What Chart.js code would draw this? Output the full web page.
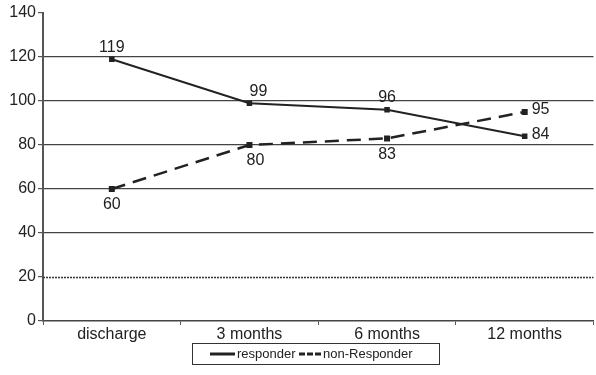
<!DOCTYPE html>
<html>
<head>
<meta charset="utf-8">
<script src="https://cdn.jsdelivr.net/npm/chart.js@4/dist/chart.umd.min.js"></script>
<style>
  html, body { margin: 0; padding: 0; background: #fff; overflow: hidden; }
  #wrap { width: 600px; height: 375px; }
</style>
</head>
<body>
<div id="wrap"><canvas id="c" width="600" height="375"></canvas></div>
<script>
const categories = ['discharge', '3 months', '6 months', '12 months'];
const responder = [119, 99, 96, 84];
const nonResponder = [60, 80, 83, 95];
const yTicks = [0, 20, 40, 60, 80, 100, 120, 140];
const seriesNames = ['responder', 'non-Responder'];

const FONT = '"Liberation Sans", Arial, Helvetica, sans-serif';
const INK = '#222';

// value labels next to each point: placement per series and category
const labelPlacement = [
  ['above', 'above', 'above', 'right'],
  ['below', 'below', 'below', 'right']
];

const valueLabels = {
  id: 'valueLabels',
  afterDatasetsDraw(chart) {
    const ctx = chart.ctx;
    ctx.save();
    ctx.font = '16px ' + FONT;
    ctx.fillStyle = INK;
    ctx.textBaseline = 'middle';
    chart.data.datasets.forEach((ds, di) => {
      const meta = chart.getDatasetMeta(di);
      meta.data.forEach((pt, i) => {
        const where = labelPlacement[di][i];
        let x = pt.x, y = pt.y;
        ctx.textAlign = 'center';
        if (where === 'above') y -= 12;
        else if (where === 'below') y += 16;
        else { ctx.textAlign = 'left'; x += 7; y -= 2; }
        if (di === 0 && i === 1) x += 9;
        if (di === 1 && i === 1) x += 6;
        ctx.fillText(String(ds.data[i]), x, y);
      });
    });
    ctx.restore();
  }
};

// boxed legend below the axis
const boxLegend = {
  id: 'boxLegend',
  afterDraw(chart) {
    const ctx = chart.ctx;
    ctx.save();
    const bx = 192.5, by = 343.5, bw = 247, bh = 21;
    ctx.strokeStyle = '#333';
    ctx.lineWidth = 1;
    ctx.strokeRect(bx, by, bw, bh);
    const cy = by + bh / 2;
    ctx.lineWidth = 3;
    ctx.strokeStyle = INK;
    ctx.setLineDash([]);
    ctx.beginPath(); ctx.moveTo(210, cy); ctx.lineTo(235, cy); ctx.stroke();
    ctx.setLineDash([6, 2]);
    ctx.beginPath(); ctx.moveTo(299, cy); ctx.lineTo(321, cy); ctx.stroke();
    ctx.setLineDash([]);
    ctx.font = '13px ' + FONT;
    ctx.fillStyle = INK;
    ctx.textBaseline = 'middle';
    ctx.textAlign = 'left';
    ctx.fillText(seriesNames[0], 237, cy);
    ctx.fillText(seriesNames[1], 323, cy);
    ctx.restore();
  }
};

new Chart(document.getElementById('c'), {
  type: 'line',
  data: {
    labels: categories,
    datasets: [
      {
        label: seriesNames[0],
        data: responder,
        borderColor: INK,
        borderWidth: 2,
        pointStyle: 'rect',
        pointRadius: 2.5,
        pointBackgroundColor: INK,
        pointBorderColor: INK,
        tension: 0
      },
      {
        label: seriesNames[1],
        data: nonResponder,
        borderColor: INK,
        borderWidth: 2.5,
        borderDash: [14, 8],
        pointStyle: 'rect',
        pointRadius: 2.5,
        pointBackgroundColor: INK,
        pointBorderColor: INK,
        tension: 0
      }
    ]
  },
  options: {
    responsive: false,
    animation: false,
    devicePixelRatio: 1,
    layout: { padding: { top: 13, right: 0, bottom: 0, left: 0 } },
    plugins: {
      legend: { display: false },
      tooltip: { enabled: false }
    },
    scales: {
      x: {
        type: 'category',
        offset: true,
        afterFit(s) { s.height = 54; },
        border: { display: true, color: '#444', width: 1.5, dash: [2, 1] },
        grid: {
          offset: true,
          drawOnChartArea: false,
          drawTicks: true,
          tickLength: 4,
          color: '#555'
        },
        ticks: {
          color: INK,
          font: { family: FONT, size: 16 },
          padding: 0,
          maxRotation: 0
        }
      },
      y: {
        min: 0,
        max: 140,
        afterFit(s) { s.width = 43; },
        afterBuildTicks(s) { s.ticks = yTicks.map(v => ({ value: v })); },
        border: { display: true, color: '#555', width: 2 },
        grid: {
          drawOnChartArea: true,
          drawTicks: true,
          tickLength: 5,
          // solid reference lines from 40 to 120; 0 is the axis, 20 is dotted, 140 has none
          color: (c) => (c.tick && c.tick.value >= 40 && c.tick.value <= 120) ? '#444' : 'rgba(0,0,0,0)',
          lineWidth: 1.2,
          tickColor: '#555'
        },
        ticks: {
          color: INK,
          font: { family: FONT, size: 16 },
          padding: 2
        }
      }
    }
  },
  plugins: [valueLabels, boxLegend, {
    id: 'dottedGrid',
    beforeDatasetsDraw(chart) {
      // the lowest reference line is dotted
      const { ctx, chartArea, scales } = chart;
      ctx.save();
      ctx.strokeStyle = '#333';
      ctx.lineWidth = 1.5;
      ctx.setLineDash([2, 1]);
      [20].forEach(v => {
        const y = Math.round(scales.y.getPixelForValue(v)) + 0.5;
        ctx.beginPath(); ctx.moveTo(chartArea.left, y); ctx.lineTo(chartArea.right, y); ctx.stroke();
      });
      ctx.restore();
    }
  }]
});
</script>
</body>
</html>
